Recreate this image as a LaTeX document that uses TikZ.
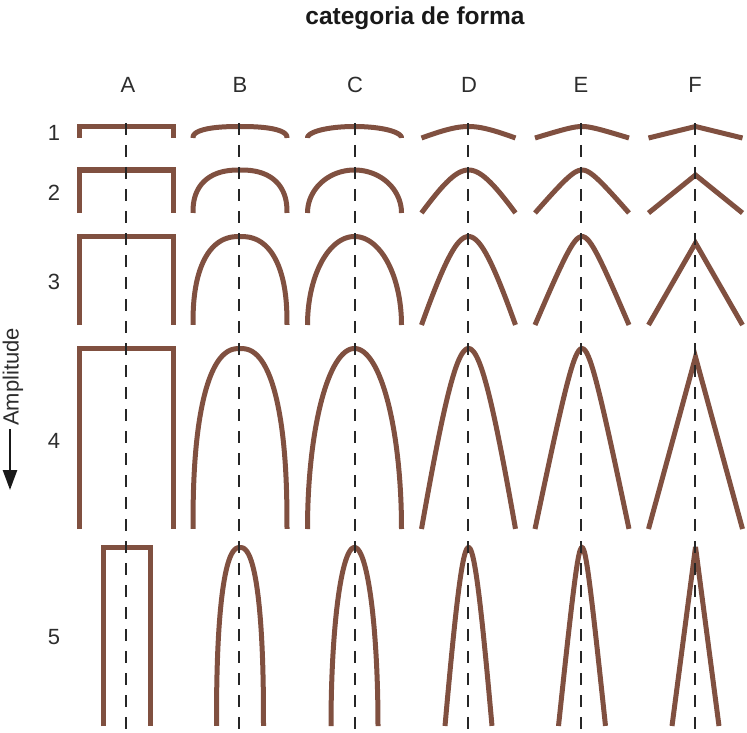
\documentclass[tikz,border=0pt]{standalone}
\usepackage{fontspec}
\setmainfont{Liberation Sans}
\usetikzlibrary{arrows.meta}
\definecolor{foldbrown}{RGB}{128,80,64}
\definecolor{dashgray}{RGB}{38,38,38}
\definecolor{labelgray}{RGB}{45,45,45}
\tikzset{
  fold/.style={draw=foldbrown, line width=5pt, line join=miter, miter limit=5},
  hingeline/.style={draw=dashgray, line width=2pt, dash pattern=on 12pt off 10pt},
  gridlabel/.style={font=\fontsize{22}{26}\selectfont, text=labelgray, inner sep=0pt},
  titlelabel/.style={font=\fontsize{24.5}{28}\selectfont\bfseries, text=black!90, inner sep=0pt},
  amparrow/.style={draw=black!90, line width=2.6pt, -{Triangle[length=20pt,width=14pt]}},
}
% #1 centre x, #2 top y, #3 bottom y, #4 half width
\newcommand\FoldA[4]{\draw[fold] ({#1-#4},#3) -- ({#1-#4},#2) -- ({#1+#4},#2) -- ({#1+#4},#3);}
\newcommand\FoldB[4]{\draw[fold] plot[domain=0:180, samples=91, variable=\a]
  ({#1-(#4)*sign(cos(\a))*pow(abs(cos(\a))+0.00001,0.8333)}, {#3-(#3-#2)*pow(abs(sin(\a))+0.00001,0.8333)});}
\newcommand\FoldC[4]{\draw[fold] plot[domain=0:180, samples=91, variable=\a]
  ({#1-(#4)*cos(\a)}, {#3-(#3-#2)*sin(\a)});}
\newcommand\FoldD[4]{\draw[fold] plot[domain=-1:1, samples=61, variable=\u]
  ({#1+(#4)*\u}, {#3-(#3-#2)*(1-(sqrt(\u*\u+0.3025)-0.55)/0.59133)});}
\newcommand\FoldE[4]{\draw[fold] plot[domain=-1:1, samples=61, variable=\u]
  ({#1+(#4)*\u}, {#3-(#3-#2)*(1-(sqrt(\u*\u+0.0625)-0.25)/0.78078)});}
% #5 apex y
\newcommand\FoldF[5]{\draw[fold] ({#1-#4},#3) -- (#1,#5) -- ({#1+#4},#3);}

\begin{document}
\begin{tikzpicture}[x=1pt,y=-1pt]
\useasboundingbox (0,0) rectangle (747,733);

% title
\node[titlelabel, anchor=base] (title) at (415,25) {categoria de forma};

% column labels
\node[gridlabel] (colA) at (128,85) {A};
\node[gridlabel] (colB) at (240,85) {B};
\node[gridlabel] (colC) at (355,85) {C};
\node[gridlabel] (colD) at (469,85) {D};
\node[gridlabel] (colE) at (581,85) {E};
\node[gridlabel] (colF) at (695,85) {F};

% rows: top / bottom / half width / chevron apex / label y
\foreach \ty/\by/\w/\fa/\ly [count=\r] in {
   126.5/138/47/126.5/133,
   170/213/47/175/193,
   236.5/325/47/243/282,
   348.5/529/47/357/441,
   547.5/726/23.5/547/637} {
  \node[gridlabel] (row\r) at (54,\ly) {\r};
  \FoldA{126.5}{\ty}{\by}{\w}
  \FoldB{240}{\ty}{\by}{\w}
  \FoldC{354.5}{\ty}{\by}{\w}
  \FoldD{468.5}{\ty}{\by}{\w}
  \FoldE{582}{\ty}{\by}{\w}
  \FoldF{695.5}{\ty}{\by}{\w}{\fa}
}

% hinge (axial) lines
\foreach \cx/\nm in {126/A,239/B,354.5/C,468/D,581/E,695/F} {
  \coordinate (h\nm top) at (\cx,123);
  \coordinate (h\nm bot) at (\cx,733);
  \draw[hingeline] (h\nm top) -- (h\nm bot);
}

% amplitude axis
\node[gridlabel, rotate=90, anchor=base west] (amp) at (18.5,426) {Amplitude};
\coordinate (arrtop) at (10,429);
\coordinate (arrtip) at (10,490);
\draw[amparrow] (arrtop) -- (arrtip);
\end{tikzpicture}
\end{document}
